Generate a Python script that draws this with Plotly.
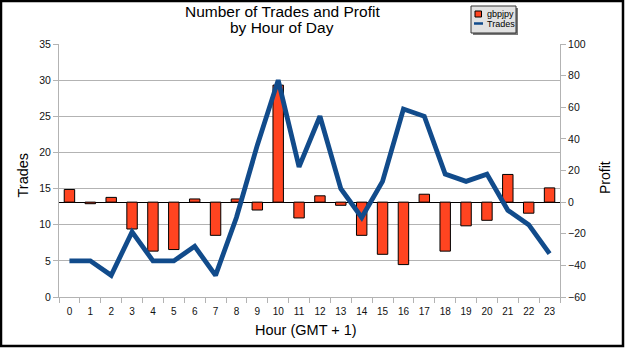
import plotly.graph_objects as go

# ---- data ----
hours = [str(h) for h in range(24)]
profit_gbpjpy = [8, -1, 3, -17, -31, -30, 2, -21, 2, -5, 74, -10,
                 4, -2, -21, -33, -39.5, 5, -31, -15, -11.5, 17.5, -7, 9]
trades = [5, 5, 3, 9, 5, 5, 7, 3, 11, 21, 30, 18,
          25, 15, 11, 16, 26, 25, 17, 16, 17, 12, 10, 6]
trades_ticks = list(range(0, 36, 5))
profit_ticks = list(range(-60, 101, 20))

# ---- layout geometry (page pixels -> paper coords) ----
W, H = 625, 348
L, R, T, B = 59, 65, 44, 51
PW, PH = W - L - R, H - T - B


def px(x):
    return (x - L) / PW


def py(y):
    return (H - B - y) / PH


FONT = "Liberation Sans"
BAR = "#ff4420"
LINE = "#114b8b"
GRID = "#b3b3b3"

fig = go.Figure()
fig.add_trace(go.Bar(
    x=hours, y=profit_gbpjpy, name="gbpjpy", yaxis="y", width=0.5,
    marker=dict(color=BAR, line=dict(color="#000000", width=1)),
))
fig.add_trace(go.Scatter(
    x=hours, y=trades, name="Trades", yaxis="y2", mode="lines",
    line=dict(color=LINE, width=4.8),
))

fig.update_layout(
    width=W, height=H,
    margin=dict(l=L, r=R, t=T, b=B, pad=0),
    paper_bgcolor="white", plot_bgcolor="white",
    showlegend=False,
    font=dict(family=FONT, color="#111111"),
    xaxis=dict(
        type="category", tickson="boundaries", ticks="outside", ticklen=5,
        tickcolor=GRID, showline=True, linecolor=GRID, linewidth=1,
        showgrid=False, tickfont=dict(size=10, family=FONT),
        ticklabelstandoff=5,
    ),
    yaxis=dict(
        side="right", range=[-60, 100], tickvals=profit_ticks,
        showgrid=False, zeroline=True, zerolinecolor="#000000", zerolinewidth=1,
        showline=True, linecolor=GRID, ticks="outside", ticklen=5, tickcolor=GRID,
        tickfont=dict(size=10.5, family=FONT),
    ),
    yaxis2=dict(
        side="left", overlaying="y", range=[0, 35], tickvals=trades_ticks,
        showgrid=True, gridcolor=GRID, gridwidth=1, zeroline=False,
        showline=True, linecolor=GRID, ticks="outside", ticklen=5, tickcolor=GRID,
        tickfont=dict(size=10.5, family=FONT),
    ),
    bargap=0.5,
)

ann = []
ann.append(dict(text="Number of Trades and Profit", x=px(282), y=py(11.8),
                font=dict(size=15.5, family=FONT, color="#000")))
ann.append(dict(text="by Hour of Day", x=px(282), y=py(27.2),
                font=dict(size=15.5, family=FONT, color="#000")))
ann.append(dict(text="Trades", x=px(22), y=py(175.5), textangle=-90,
                font=dict(size=14.5, family=FONT, color="#000")))
ann.append(dict(text="Profit", x=px(605), y=py(178), textangle=-90,
                font=dict(size=14, family=FONT, color="#000")))
ann.append(dict(text="Hour (GMT + 1)", x=px(306), y=py(330),
                font=dict(size=14.5, family=FONT, color="#000")))
ann.append(dict(text="gbpjpy", x=px(485), y=py(14), xanchor="left",
                font=dict(size=9, family=FONT, color="#000")))
ann.append(dict(text="Trades", x=px(485), y=py(23.5), xanchor="left",
                font=dict(size=9, family=FONT, color="#000")))
for a in ann:
    a.update(xref="paper", yref="paper", showarrow=False)
    a.setdefault("xanchor", "center")
    a.setdefault("yanchor", "middle")
fig.update_layout(annotations=ann)

shapes = [
    # outer frame
    dict(type="rect", x0=px(1), x1=px(623), y0=py(346), y1=py(1),
         line=dict(color="#000", width=2.5)),
    # legend shadow + box
    dict(type="rect", x0=px(473), x1=px(518), y0=py(35), y1=py(8),
         fillcolor="#7a7a7a", line=dict(width=0)),
    dict(type="rect", x0=px(471), x1=px(516), y0=py(33), y1=py(6),
         fillcolor="#e2e2e2", line=dict(color="#333", width=1)),
    # legend symbols
    dict(type="rect", x0=px(475), x1=px(481.5), y0=py(17), y1=py(11),
         fillcolor=BAR, line=dict(color="#000", width=1)),
    dict(type="line", x0=px(474), x1=px(483), y0=py(23.5), y1=py(23.5),
         line=dict(color=LINE, width=2.5)),
]
for s in shapes:
    s.update(xref="paper", yref="paper", layer="above")
fig.update_layout(shapes=shapes)

fig.write_html("out.html")
